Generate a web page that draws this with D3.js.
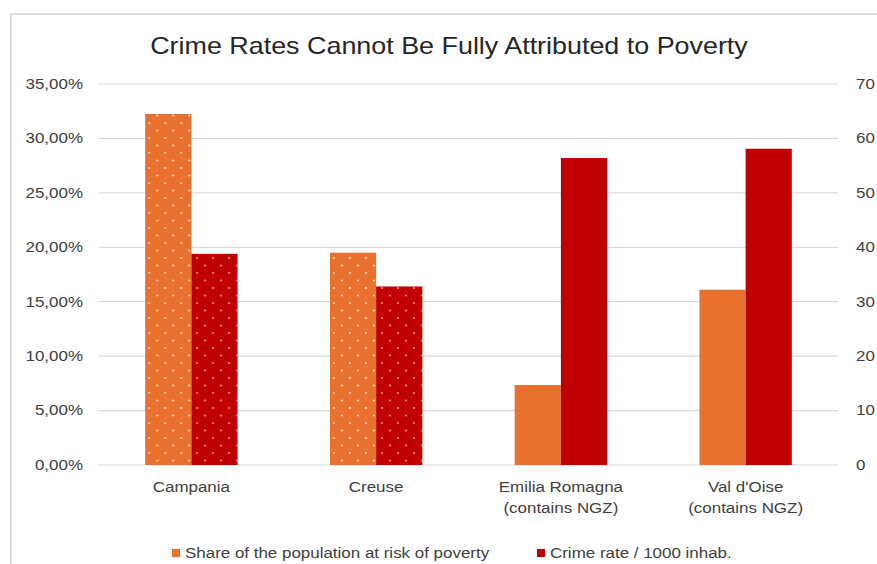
<!DOCTYPE html>
<html>
<head>
<meta charset="utf-8">
<script src="https://cdn.jsdelivr.net/npm/d3@7"></script>
<style>
  body { margin: 0; background: #fff; }
  text { font-family: "Liberation Sans", Arial, sans-serif; }
</style>
</head>
<body>
<div id="chart-area"></div>
<script>
// Data
var categories = ["Campania", "Creuse", "Emilia Romagna|(contains NGZ)", "Val d'Oise|(contains NGZ)"];
var povertyShare = [0.3225, 0.195, 0.0735, 0.161];
var crimeRate = [38.8, 32.8, 56.4, 58.1];
var patterned = [true, true, false, false];
var leftTicks = [0, 0.05, 0.10, 0.15, 0.20, 0.25, 0.30, 0.35];
var rightTicks = [0, 10, 20, 30, 40, 50, 60, 70];
var seriesNames = ["Share of the population at risk of poverty", "Crime rate / 1000 inhab."];

var width = 877;
var height = 564;
var stretch = 1.21; // text in the original is a bit wider than Arial

var svg = d3.select("#chart-area").append("svg")
  .attr("width", width)
  .attr("height", height);

// frame
svg.append("rect")
  .attr("x", 11).attr("y", 14)
  .attr("width", 900).attr("height", 600)
  .attr("fill", "#fff")
  .attr("stroke", "#dedede")
  .attr("stroke-width", 2);

// dot patterns
var defs = svg.append("defs");
function makePattern(id, color, dot) {
  var p = defs.append("pattern")
    .attr("id", id)
    .attr("patternUnits", "userSpaceOnUse")
    .attr("width", 16).attr("height", 15);
  p.append("rect").attr("width", 16).attr("height", 15).attr("fill", color);
  p.append("circle").attr("cx", 4).attr("cy", 3).attr("r", 1.1).attr("fill", dot);
  p.append("circle").attr("cx", 12).attr("cy", 10.5).attr("r", 1.1).attr("fill", dot);
}
var orange = "#E8712F";
var red = "#C00000";
makePattern("dotsOrange", orange, "rgba(255,235,220,0.8)");
makePattern("dotsRed", red, "rgba(255,190,190,0.75)");

// Scales
var margin = { left: 99, right: 838, top: 84, bottom: 465 };

var x = d3.scaleBand()
  .domain(categories)
  .range([margin.left, margin.right])
  .paddingInner(0.5)
  .paddingOuter(0.25);

var xSeries = d3.scaleBand()
  .domain([0, 1])
  .range([0, x.bandwidth()]);

var yLeft = d3.scaleLinear().domain([0, 0.35]).range([margin.bottom, margin.top]);
var yRight = d3.scaleLinear().domain([0, 70]).range([margin.bottom, margin.top]);

// gridlines
svg.append("g").selectAll("line")
  .data(leftTicks)
  .enter().append("line")
  .attr("x1", margin.left).attr("x2", margin.right)
  .attr("y1", function(d){ return yLeft(d); })
  .attr("y2", function(d){ return yLeft(d); })
  .attr("stroke", "#d9d9d9")
  .attr("stroke-width", 1.2);

// left axis labels
var fmt = function(d){ return d3.format(".2f")(d * 100).replace(".", ",") + "%"; };
svg.append("g").selectAll("text")
  .data(leftTicks)
  .enter().append("text")
  .attr("class", "st")
  .attr("x", 83)
  .attr("y", function(d){ return yLeft(d); })
  .attr("dy", "0.35em")
  .attr("text-anchor", "end")
  .attr("font-size", 14)
  .attr("fill", "#404040")
  .text(fmt);

// right axis labels
svg.append("g").selectAll("text")
  .data(rightTicks)
  .enter().append("text")
  .attr("class", "st")
  .attr("x", 856)
  .attr("y", function(d){ return yRight(d); })
  .attr("dy", "0.35em")
  .attr("text-anchor", "start")
  .attr("font-size", 14)
  .attr("fill", "#404040")
  .text(function(d){ return d; });

// bars
var groups = svg.append("g").selectAll("g")
  .data(categories)
  .enter().append("g")
  .attr("transform", function(d){ return "translate(" + x(d) + ",0)"; });

groups.append("rect")
  .attr("x", xSeries(0))
  .attr("width", xSeries.bandwidth())
  .attr("y", function(d, i){ return yLeft(povertyShare[i]); })
  .attr("height", function(d, i){ return margin.bottom - yLeft(povertyShare[i]); })
  .attr("fill", function(d, i){ return patterned[i] ? "url(#dotsOrange)" : orange; });

groups.append("rect")
  .attr("x", xSeries(1))
  .attr("width", xSeries.bandwidth())
  .attr("y", function(d, i){ return yRight(crimeRate[i]); })
  .attr("height", function(d, i){ return margin.bottom - yRight(crimeRate[i]); })
  .attr("fill", function(d, i){ return patterned[i] ? "url(#dotsRed)" : red; });

// category labels
var labels = svg.append("g").selectAll("text")
  .data(categories)
  .enter().append("text")
  .attr("x", function(d){ return x(d) + x.bandwidth() / 2; })
  .attr("y", 492)
  .attr("text-anchor", "middle")
  .attr("font-size", 14)
  .attr("fill", "#404040");
labels.each(function(d){
  var lines = d.split("|");
  var t = d3.select(this);
  lines.forEach(function(line, i){
    t.append("tspan")
      .attr("class", "st")
      .attr("x", x(d) + x.bandwidth() / 2)
      .attr("dy", i === 0 ? 0 : 21)
      .text(line);
  });
});

// title
svg.append("text")
  .attr("class", "st-title")
  .attr("x", 449)
  .attr("y", 54)
  .attr("text-anchor", "middle")
  .attr("font-size", 24)
  .attr("fill", "#262626")
  .text("Crime Rates Cannot Be Fully Attributed to Poverty");

// legend
var legendX = [172, 537];
var legendColors = [orange, red];
var legend = svg.append("g").selectAll("g")
  .data(seriesNames)
  .enter().append("g")
  .attr("transform", function(d, i){ return "translate(" + legendX[i] + ",553)"; });
legend.append("rect")
  .attr("x", 0).attr("y", -4)
  .attr("width", 8).attr("height", 8)
  .attr("fill", function(d, i){ return legendColors[i]; });
legend.append("text")
  .attr("class", "st")
  .attr("x", 13)
  .attr("y", 0)
  .attr("dy", "0.35em")
  .attr("font-size", 14)
  .attr("fill", "#404040")
  .text(function(d){ return d; });

// widen text horizontally to match the original's look
function widen(sel, k) {
  sel.each(function(){
    var len = this.getComputedTextLength();
    d3.select(this)
      .attr("textLength", len * k)
      .attr("lengthAdjust", "spacingAndGlyphs");
  });
}
widen(svg.selectAll(".st"), stretch);
widen(svg.selectAll(".st-title"), 1.12);
</script>
</body>
</html>
